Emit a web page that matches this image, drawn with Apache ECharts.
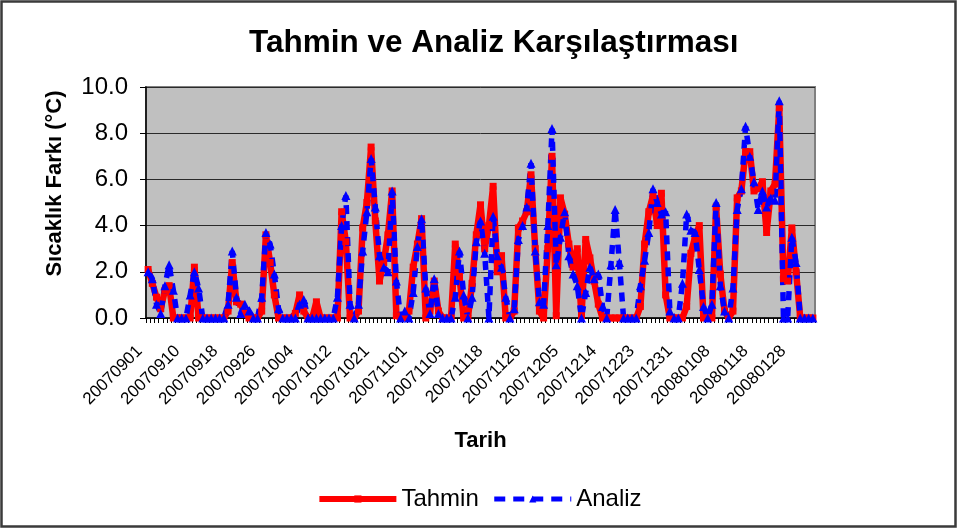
<!DOCTYPE html>
<html><head><meta charset="utf-8">
<script src="https://cdn.jsdelivr.net/npm/echarts@6/dist/echarts.min.js"></script>
<style>html,body{margin:0;padding:0;background:#fff}#c{width:958px;height:530px}</style>
</head><body><div id="c"></div>
<script>
const categories = [
 '20070901','20070902','20070903','20070904','20070905','20070906','20070907','20070908','20070909',
 '20070910','20070911','20070912','20070913','20070914','20070915','20070916','20070917','20070917',
 '20070918','20070919','20070920','20070921','20070922','20070923','20070924','20070925','20070925',
 '20070926','20070927','20070928','20070929','20070930','20071001','20071002','20071003','20071003',
 '20071004','20071005','20071006','20071007','20071008','20071009','20071010','20071011','20071011',
 '20071012','20071013','20071014','20071015','20071016','20071017','20071018','20071019','20071020',
 '20071021','20071022','20071023','20071024','20071026','20071027','20071029','20071030','20071031',
 '20071101','20071102','20071103','20071104','20071105','20071106','20071107','20071108','20071108',
 '20071109','20071110','20071111','20071112','20071113','20071114','20071115','20071116','20071117',
 '20071118','20071119','20071120','20071121','20071122','20071123','20071124','20071125','20071125',
 '20071126','20071127','20071128','20071129','20071130','20071201','20071202','20071203','20071204',
 '20071205','20071206','20071207','20071208','20071209','20071210','20071211','20071212','20071213',
 '20071214','20071215','20071216','20071217','20071218','20071219','20071220','20071221','20071222',
 '20071223','20071224','20071225','20071226','20071227','20071228','20071229','20071230','20071230',
 '20071231','20080101','20080102','20080103','20080104','20080105','20080106','20080107','20080107',
 '20080108','20080109','20080110','20080111','20080112','20080114','20080115','20080116','20080117',
 '20080118','20080119','20080120','20080121','20080123','20080124','20080125','20080126','20080127',
 '20080128','20080129','20080130','20080131','20080201','20080202'
];
const tahmin = [
 2.1,1.5,0.9,0.4,1.2,1.4,0,0,0,0,
 0,2.2,0,0,0,0,0,0,0,0.3,
 2.4,0.7,0.6,0.2,0,0,0,0.3,3.6,2.4,
 1.0,0,0,0,0,0.2,1.0,0.3,0,0,
 0.7,0,0,0,0,0,4.6,3.3,0,0,
 0.3,3.9,5.0,7.4,4.2,1.6,2.4,3.6,5.5,0.1,
 0,0,0.3,2.2,3.2,4.3,0,0.3,1.6,0.3,
 0,0,0,3.2,1.8,0,0,1.5,3.6,4.9,
 3.0,4.0,5.7,2.0,2.7,0,0,0.3,3.9,4.2,
 4.6,6.2,3.0,0.3,0,3.0,7.0,0.1,5.2,4.5,
 3.2,2.2,3.0,0.1,3.4,2.6,1.6,0.6,0,0,
 0,0,0,0,0,0,0,0.5,3.2,4.6,
 5.3,4.0,5.4,1.0,0,0,0,0,0.5,2.8,
 3.5,4.0,0,0,0,4.8,1.9,0.3,0,0.3,
 5.2,5.5,7.2,7.2,5.5,5.6,5.9,3.7,5.5,5.8,
 9.1,1.7,1.6,3.9,2.0,0,0,0,0
];
const analiz = [
 2.0,1.7,0.6,0.2,1.4,2.3,1.2,0,0,0,
 1.0,2.0,1.3,0,0,0,0,0,0,0.6,
 2.9,0.9,0.2,0.6,0.3,0,0,0.9,3.7,3.2,
 1.9,0.4,0,0,0,0,0.6,0.8,0,0,
 0,0,0,0,0,0.9,4.0,5.3,0.6,0,
 0.6,2.9,4.6,6.9,4.8,2.7,2.2,2.0,5.5,1.6,
 0,0.3,0,1.1,3.1,4.3,1.3,0.2,1.7,0.2,
 0,0,0,0.9,2.9,1.0,0,0.9,3.3,4.2,
 2.8,0,4.4,2.7,2.2,0.9,0,0.4,3.4,4.0,
 4.8,6.7,2.9,0.7,0.6,4.0,8.2,2.3,3.5,4.6,
 2.7,1.9,1.4,0,1.1,2.2,1.7,1.9,0.5,0,
 2.3,4.7,2.4,0,0,0,0,1.4,2.5,3.7,
 5.6,5.0,4.5,4.6,0.3,0,0,1.5,4.5,3.8,
 3.7,2.1,0.5,0,0.6,5.0,1.4,0.3,0,1.3,
 4.7,5.6,8.3,7.0,5.9,4.7,5.5,4.8,5.2,5.1,
 9.4,0,0,3.5,2.4,0,0,0,0
];
const yMin = 0, yMax = 10, yStep = 2;

const FONT = '"Liberation Sans", Arial, sans-serif';
const chart = echarts.init(document.getElementById('c'), null, {renderer: 'canvas'});
chart.setOption({
  animation: false,
  backgroundColor: '#ffffff',
  title: {
    text: 'Tahmin ve Analiz Karşılaştırması',
    left: 244, top: 22,
    textStyle: {fontFamily: FONT, fontSize: 31.5, fontWeight: 'bold', color: '#000'}
  },
  graphic: [{
    type: 'rect', silent: true, z: 100,
    shape: {x: 1.5, y: 1.5, width: 954, height: 525},
    style: {fill: 'none', stroke: '#3a3a3a', lineWidth: 2.5}
  }],
  legend: {
    left: 'center', top: 482,
    itemWidth: 77, itemHeight: 9, itemGap: 13,
    textStyle: {fontFamily: FONT, fontSize: 24, color: '#000'},
    data: [
      {name: 'Tahmin', lineStyle: {width: 6, color: '#FF0000'}},
      {name: 'Analiz', lineStyle: {width: 5, color: '#0000FF', type: [11, 8]}}
    ]
  },
  grid: {
    left: 146, right: 143, top: 87, bottom: 212,
    show: true, backgroundColor: '#C0C0C0', borderColor: '#808080', borderWidth: 2
  },
  xAxis: {
    type: 'category', data: categories, boundaryGap: true,
    name: 'Tarih', nameLocation: 'middle', nameGap: 112,
    nameTextStyle: {fontFamily: FONT, fontSize: 22, fontWeight: 'bold', color: '#000'},
    axisLine: {show: true, lineStyle: {color: '#000', width: 1.5}},
    axisTick: {show: true, interval: 0, length: 5, lineStyle: {color: '#000', width: 1}},
    axisLabel: {interval: 8, rotate: 45, margin: 22, padding: [0, 12, 0, 0], fontFamily: FONT, fontSize: 17, color: '#000'},
    splitLine: {show: false}
  },
  yAxis: {
    type: 'value', min: yMin, max: yMax, interval: yStep,
    name: 'Sıcaklık Farkı (°C)', nameLocation: 'middle', nameGap: 80,
    nameTextStyle: {fontFamily: FONT, fontSize: 22, fontWeight: 'bold', color: '#000', padding: [0,0,0,38]},
    axisLine: {show: true, lineStyle: {color: '#000', width: 1.5}},
    axisTick: {show: true, length: 6, lineStyle: {color: '#000', width: 1}},
    axisLabel: {margin: 18, fontFamily: FONT, fontSize: 24, color: '#000', formatter: v => v.toFixed(1)},
    splitLine: {show: true, lineStyle: {color: '#2a2a2a', width: 1}}
  },
  series: [
    {
      name: 'Tahmin', type: 'line', data: tahmin,
      symbol: 'rect', symbolSize: 7, showAllSymbol: true,
      lineStyle: {color: '#FF0000', width: 6.5},
      itemStyle: {color: '#FF0000'}
    },
    {
      name: 'Analiz', type: 'line', data: analiz,
      symbol: 'triangle', symbolSize: 9, showAllSymbol: true,
      lineStyle: {color: '#0000FF', width: 5.5, type: [9, 7]},
      itemStyle: {color: '#0000FF'}
    }
  ]
});
</script></body></html>
